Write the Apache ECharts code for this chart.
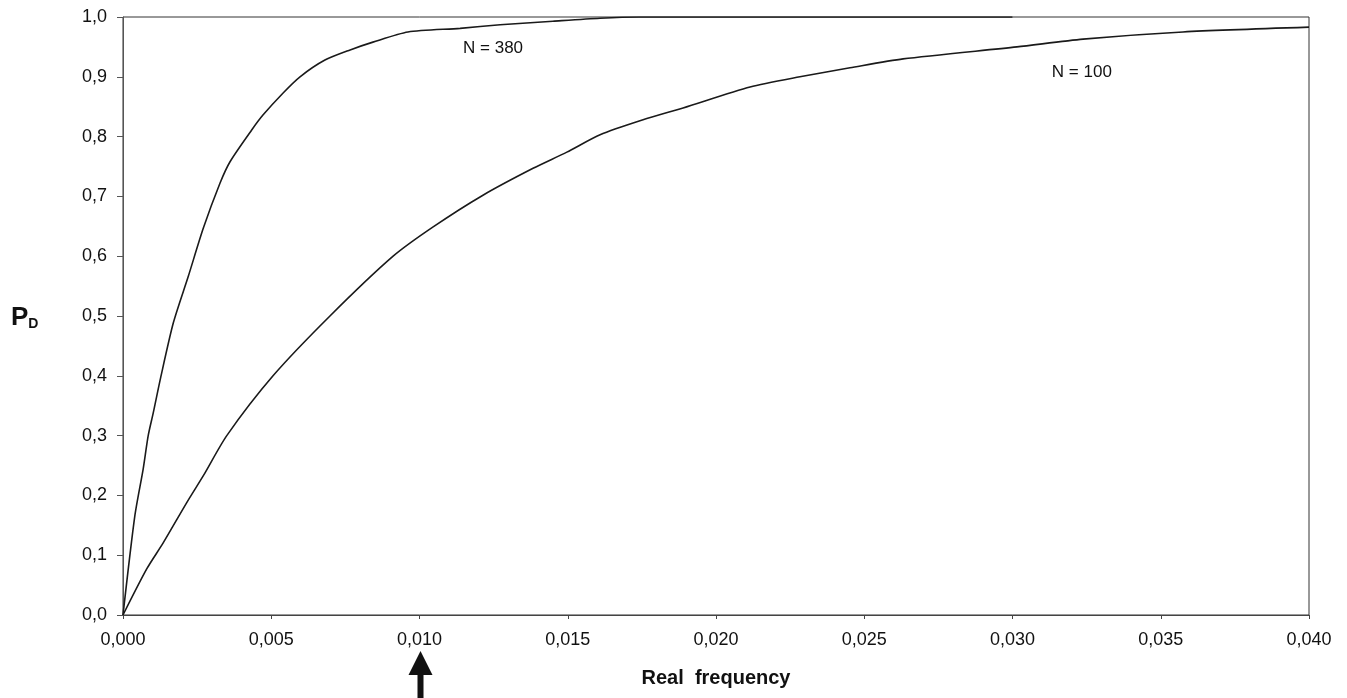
<!DOCTYPE html>
<html>
<head>
<meta charset="utf-8">
<script src="https://cdn.jsdelivr.net/npm/echarts@6/dist/echarts.min.js"></script>
<style>html,body{margin:0;padding:0;background:#fff;}#c{width:1347px;height:698px;}</style>
</head>
<body>
<div id="c"></div>
<script>
// Real frequency (x) and detection probability P_D (y)
const n380X = [0, 0.0004, 0.00068, 0.00085, 0.00102, 0.00127, 0.0017, 0.0022, 0.00271, 0.00327, 0.00361, 0.00434, 0.00472, 0.0054, 0.00597, 0.00681, 0.00766, 0.00843, 0.00961, 0.01137, 0.01272, 0.01450, 0.01609, 0.0174, 0.020, 0.025, 0.030];
const n380Y = [0, 0.166, 0.244, 0.300, 0.338, 0.397, 0.489, 0.566, 0.647, 0.722, 0.758, 0.811, 0.836, 0.873, 0.900, 0.928, 0.945, 0.958, 0.975, 0.981, 0.987, 0.993, 0.998, 1.0, 1.0, 1.0, 1.0];
const n100X = [0, 0.0008, 0.00136, 0.00215, 0.00271, 0.0035, 0.00506, 0.00698, 0.00911, 0.01046, 0.01214, 0.01383, 0.01497, 0.01609, 0.01754, 0.01889, 0.02115, 0.02283, 0.02452, 0.02631, 0.03015, 0.03238, 0.03575, 0.04];
const n100Y = [0, 0.077, 0.121, 0.188, 0.233, 0.300, 0.400, 0.500, 0.600, 0.649, 0.702, 0.747, 0.774, 0.803, 0.828, 0.848, 0.883, 0.900, 0.915, 0.930, 0.950, 0.963, 0.975, 0.983];
const curveLabels = ['N = 380', 'N = 100'];
const labelPos = [[0.01248, 0.948], [0.03234, 0.908]];
const arrowAt = 0.010;

const FONT = "'Liberation Sans', Arial, sans-serif";
const chart = echarts.init(document.getElementById('c'));
const pairs = (xs, ys) => xs.map((x, i) => [x, ys[i]]);

chart.setOption({
  animation: false,
  backgroundColor: '#fff',
  grid: { left: 123, right: 38, top: 17, bottom: 83, containLabel: false, outerBoundsMode: 'none',
    show: true, borderColor: '#333', borderWidth: 1 },
  xAxis: {
    type: 'value', min: 0, max: 0.04, interval: 0.005,
    name: 'Real  frequency', nameLocation: 'middle', nameGap: 53,
    nameTextStyle: { fontFamily: FONT, fontSize: 20, fontWeight: 'bold', color: '#111' },
    axisLine: { show: true, lineStyle: { color: '#444', width: 1 } },
    axisTick: { show: true, inside: false, length: 4, lineStyle: { color: '#444' } },
    axisLabel: { margin: 16, fontFamily: FONT, fontSize: 18, color: '#111',
      formatter: v => (Math.round(v * 1000) / 1000).toFixed(3).replace('.', ',') },
    splitLine: { show: false }
  },
  yAxis: {
    type: 'value', min: 0, max: 1, interval: 0.1,
    axisLine: { show: true, lineStyle: { color: '#555', width: 1 } },
    axisTick: { show: true, inside: false, length: 6, lineStyle: { color: '#555' } },
    axisLabel: { margin: 16, fontFamily: FONT, fontSize: 18, color: '#111',
      formatter: v => (Math.round(v * 10) / 10).toFixed(1).replace('.', ',') },
    splitLine: { show: false }
  },
  series: [
    { name: curveLabels[0], type: 'line', data: pairs(n380X, n380Y), showSymbol: false, smooth: 0.25,
      lineStyle: { color: '#1a1a1a', width: 1.6 } },
    { name: curveLabels[1], type: 'line', data: pairs(n100X, n100Y), showSymbol: false, smooth: 0.25,
      lineStyle: { color: '#1a1a1a', width: 1.6 } }
  ]
});

const g = [];
labelPos.forEach((p, i) => {
  const px = chart.convertToPixel({ gridIndex: 0 }, p);
  g.push({ type: 'text', x: px[0], y: px[1],
    style: { text: curveLabels[i], font: "17px " + FONT, fill: '#111', align: 'center', verticalAlign: 'middle' } });
});
const base = chart.convertToPixel({ gridIndex: 0 }, [arrowAt, 0]);
const ax = base[0] + 1;
g.push({ type: 'polygon', shape: { points: [[ax, 651], [ax - 12, 675], [ax - 3, 675], [ax - 3, 698], [ax + 3, 698], [ax + 3, 675], [ax + 12, 675]] },
  style: { fill: '#111' } });
g.push({ type: 'text', x: 11, y: 318,
  style: { rich: { p: { font: "bold 26px " + FONT, fill: '#111' }, d: { font: "bold 14px " + FONT, fill: '#111', padding: [12, 0, 0, 0] } },
    text: '{p|P}{d|D}', verticalAlign: 'middle' } });
chart.setOption({ graphic: g });
</script>
</body>
</html>
